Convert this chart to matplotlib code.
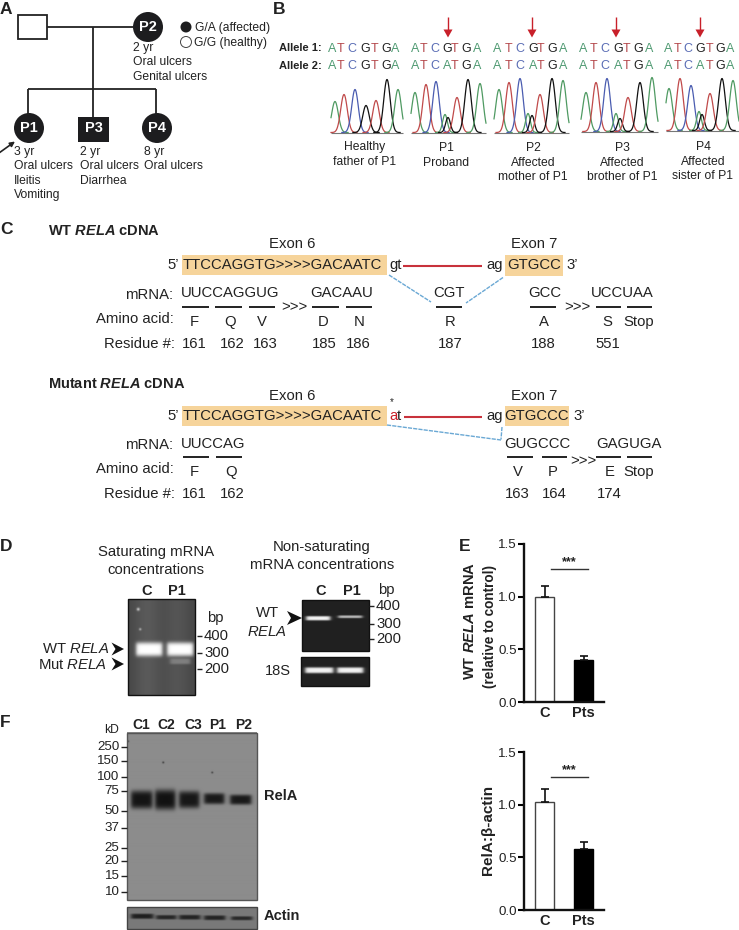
import numpy as np
import matplotlib
matplotlib.use("Agg")
import matplotlib.pyplot as plt
from matplotlib.patches import Circle, Rectangle, Polygon

W, H = 739, 930
plt.rcParams['font.family'] = ['Liberation Sans', 'DejaVu Sans']
plt.rcParams['mathtext.fontset'] = 'custom'
plt.rcParams['mathtext.rm'] = 'Liberation Sans'
plt.rcParams['mathtext.it'] = 'Liberation Sans:italic'
plt.rcParams['mathtext.bf'] = 'Liberation Sans:bold'
plt.rcParams['mathtext.bfit'] = 'Liberation Sans:italic:bold'
TXT = '#222222'

# ---------- data ----------
bar_groups = ['C', 'Pts']
mrna_values = [1.0, 0.40]
mrna_errors = [0.10, 0.04]
rela_values = [1.03, 0.58]
rela_errors = [0.12, 0.07]
bar_ticks = [0.0, 0.5, 1.0, 1.5]

allele1 = list('ATCGTGA')
allele2_healthy = list('ATCGTGA')
allele2_mutant = list('ATCATGA')
letter_x = [
    [332, 341, 352, 365, 375, 386, 395],
    [415, 424, 435, 447, 455, 466, 477],
    [497, 509, 520, 533, 541, 552, 563],
    [583, 594, 605, 618, 627, 638, 649],
    [668, 678, 688, 700, 710, 720, 730],
]
peak_color_keys = ['g', 'r', 'b', 'g', 'k', 'r', 'k', 'g']
father_peak_x = [335, 344, 355, 366, 376, 387, 398]
father_peak_h = [31, 38, 43, 27, 32, 53, 43]
father_keys = ['g', 'r', 'b', 'k', 'r', 'k', 'g']
trace_x = [
    [415, 426, 436, 445, 448, 457, 468, 480],
    [499, 509, 520, 528, 532, 540, 552, 563],
    [586, 596, 607, 616, 620, 628, 640, 652],
    [669, 680, 691, 699, 702, 710, 722, 733],
]
trace_h = [
    [40, 48, 51, 18, 15, 35, 53, 49],
    [43, 50, 54, 19, 17, 38, 54, 52],
    [39, 49, 53, 18, 13, 34, 49, 54],
    [42, 52, 45, 19, 16, 37, 52, 50],
]
trace_base = [132.5, 132.5, 131.5, 130.5]
trace_span = [(411, 486), (494, 569), (581, 658), (666, 739)]
arrow_x = [448, 532, 616, 700]

kd_labels = ['250', '150', '100', '75', '50', '37', '25', '20', '15', '10']
kd_y = [747, 761, 777, 791, 811, 828, 848, 861, 876, 892]
lane_labels = ['C1', 'C2', 'C3', 'P1', 'P2']
lane_x = [141, 166, 193, 218, 244]

# ---------- figure ----------
fig = plt.figure(figsize=(W / 100, H / 100), dpi=100)
ax = fig.add_axes([0, 0, 1, 1])
ax.set_xlim(0, W)
ax.set_ylim(H, 0)
ax.axis('off')


def T(x, y, s, size=8.7, ha='left', va='center', **kw):
    kw.setdefault('color', TXT)
    return ax.text(x, y, s, fontsize=size, ha=ha, va=va, **kw)


def L(xs, ys, color=TXT, lw=1.3, **kw):
    ax.plot(xs, ys, color=color, lw=lw, solid_capstyle='butt', **kw)


for x, y, s in [(0, 9, 'A'), (273, 9, 'B'), (0, 229, 'C'), (0, 546, 'D'),
                (459, 546, 'E'), (0, 722, 'F')]:
    T(x, y, s, size=12.5, fontweight='bold')

# ---------- panel A ----------
ax.add_patch(Rectangle((18, 15), 29, 24, fc='white', ec=TXT, lw=1.3))
L([47, 134], [27, 27])
L([93, 93], [27, 117])
L([28, 155.5], [89.5, 89.5])
L([28, 28], [89.5, 115])
L([155.5, 155.5], [89.5, 115])
for cx, cy, name in [(148, 27, 'P2'), (29, 128, 'P1'), (157, 128, 'P4')]:
    ax.add_patch(Circle((cx, cy), 15, fc='#1d1d1f', ec='none'))
    T(cx, cy, name, size=10.5, ha='center', color='white', fontweight='bold')
ax.add_patch(Rectangle((78, 117), 31, 25, fc='#1d1d1f', ec='none'))
T(93.5, 128, 'P3', size=10.5, ha='center', color='white', fontweight='bold')
ax.add_patch(Circle((186, 27), 5.5, fc='#1d1d1f', ec='none'))
ax.add_patch(Circle((186, 42), 5.5, fc='white', ec='#444444', lw=0.7))
T(195, 28, 'G/A (affected)', size=8.7)
T(194, 43, 'G/G (healthy)', size=8.7)
for x, y0, lines in [(133, 48, ['2 yr', 'Oral ulcers', 'Genital ulcers']),
                     (14, 152, ['3 yr', 'Oral ulcers', 'Ileitis', 'Vomiting']),
                     (80, 152, ['2 yr', 'Oral ulcers', 'Diarrhea']),
                     (144, 152, ['8 yr', 'Oral ulcers'])]:
    for i, s in enumerate(lines):
        T(x, y0 + i * 14.4, s, size=8.7)
ax.annotate('', xy=(15, 141.5), xytext=(-1, 153),
            arrowprops=dict(arrowstyle='-|>', color=TXT, lw=1.2, mutation_scale=7,
                            shrinkA=0, shrinkB=0))

# ---------- panel B ----------
T(279, 48, 'Allele 1:', size=8, fontweight='bold')
T(279, 66, 'Allele 2:', size=8, fontweight='bold')
COL = {'A': '#4f9a72', 'T': '#b5484c', 'C': '#5a6db5', 'G': '#222222',
       'g': '#4f9a62', 'r': '#c04a4a', 'b': '#4a5cb0', 'k': '#111111'}
for g, xs in enumerate(letter_x):
    row2 = allele2_healthy if g == 0 else allele2_mutant
    for x, a, b in zip(xs, allele1, row2):
        T(x, 48.5, a, size=9, ha='center', color=COL[a])
        T(x, 66, b, size=9, ha='center', color=COL[b])
for x in arrow_x:
    L([x, x], [17, 31], color='#c8202a', lw=1)
    ax.add_patch(Polygon([[x - 4.5, 29.5], [x + 4.5, 29.5], [x, 37.5]],
                         fc='#c8202a', ec='none'))


def trace(px, ph, keys, base, span, sigma=3.3):
    t = np.linspace(span[0], span[1], 300)
    L(list(span), [base + 0.3, base + 0.3], color='#777777', lw=0.8)
    for p, h, k in zip(px, ph, keys):
        s = sigma * (0.72 if h < 22 else 1)
        m = np.abs(t - p) < 4 * s
        ax.plot(t[m], base - h * np.exp(-(t[m] - p) ** 2 / (2 * s ** 2)),
                color=COL[k], lw=0.9)


trace(father_peak_x, father_peak_h, father_keys, 132.5, (331, 403))
for px, ph, b, sp in zip(trace_x, trace_h, trace_base, trace_span):
    trace(px, ph, peak_color_keys, b, sp)

for x, y0, lines in [(365, 147, ['Healthy', 'father of P1']),
                     (446, 148, ['P1', 'Proband']),
                     (533, 148, ['P2', 'Affected', 'mother of P1']),
                     (622, 148, ['P3', 'Affected', 'brother of P1']),
                     (703, 147, ['P4', 'Affected', 'sister of P1'])]:
    for i, s in enumerate(lines):
        T(x, y0 + i * 14.6, s, size=8.7, ha='center')

# ---------- panel C ----------
ORANGE = '#f6d49b'
T(48, 231, r'WT $\mathbfit{RELA}$ cDNA', size=10.5, fontweight='bold')
T(48, 384, r'Mutant $\mathbfit{RELA}$ cDNA', size=10.5, fontweight='bold')

S = 10.7
# WT
T(292.5, 244, 'Exon 6', size=S, ha='center')
T(534, 244, 'Exon 7', size=S, ha='center')
ax.add_patch(Rectangle((182, 254.5), 205, 20.5, fc=ORANGE, ec='none'))
ax.add_patch(Rectangle((505, 254.5), 58, 21.5, fc=ORANGE, ec='none'))
T(167, 264.5, '5’', size=S)
T(182.5, 264.5, 'TTCCAGGTG>>>>GACAATC', size=S)
T(389, 264.5, 'gt', size=S)
L([403, 482], [266, 266], color='#c8323c', lw=1.5)
T(486, 264.5, 'ag', size=S)
T(507, 264.5, 'GTGCC', size=S)
T(566, 264.5, '3’', size=S)
for xs, ys in [([389, 431], [275, 302]), ([503, 466], [277.5, 303])]:
    ax.plot(xs, ys, color='#6aa8d4', lw=1, ls=(0, (3, 0.8)))
# Mutant
T(292.5, 396, 'Exon 6', size=S, ha='center')
T(534, 396, 'Exon 7', size=S, ha='center')
ax.add_patch(Rectangle((182, 406), 205, 20, fc=ORANGE, ec='none'))
ax.add_patch(Rectangle((505, 406), 64, 20, fc=ORANGE, ec='none'))
T(167, 415.5, '5’', size=S)
T(182.5, 415.5, 'TTCCAGGTG>>>>GACAATC', size=S)
T(389, 416, 'a', size=S, color='#c8202a')
T(397, 415.5, 't', size=S)
T(392, 402.5, '*', size=7, ha='center')
L([404, 482], [417.3, 417.3], color='#c8323c', lw=1.5)
T(486, 415.5, 'ag', size=S)
T(504.5, 415.5, 'GTGCCC', size=S)
T(573, 415.5, '3’', size=S)
for xs, ys in [([387, 501], [425, 440]), ([502, 501], [427, 439.5])]:
    ax.plot(xs, ys, color='#6aa8d4', lw=1, ls=(0, (3, 0.8)))

for y, s, xr in [(295, 'mRNA:', 173), (319, 'Amino acid:', 174), (344, 'Residue #:', 175),
                 (445, 'mRNA:', 173), (469, 'Amino acid:', 174), (494, 'Residue #:', 175)]:
    T(xr, y, s, size=S, ha='right')
for x, s in [(181, 'UUCCAGGUG'), (310, 'GACAAU'), (433, 'CGT'), (528, 'GCC'), (591, 'UCCUAA')]:
    T(x, 293, s, size=S)
for x, s in [(181, 'UUCCAG'), (504, 'GUGCCC'), (596, 'GAGUGA')]:
    T(x, 443.5, s, size=S)
for a, b in [(182, 209), (215, 242), (249, 275), (312, 339), (346, 372), (436, 462),
             (530, 556), (596, 621), (627, 652)]:
    L([a, b], [307, 307], lw=1.4)
for a, b in [(183, 209), (216, 242), (507, 533), (541.5, 567), (596, 621), (627, 652)]:
    L([a, b], [456.7, 456.7], lw=1.4)
T(294, 307.5, '>>>', size=S, ha='center')
T(577, 307.5, '>>>', size=S, ha='center')
T(583, 461.5, '>>>', size=S, ha='center')
for x, s in [(194, 'F'), (230, 'Q'), (262, 'V'), (323, 'D'), (359, 'N'), (450, 'R'),
             (543.5, 'A'), (607.5, 'S'), (639, 'Stop')]:
    T(x, 321.5, s, size=S, ha='center')
for x, s in [(194, '161'), (232, '162'), (265, '163'), (324, '185'), (358, '186'),
             (450, '187'), (543, '188'), (608, '551')]:
    T(x, 344, s, size=S, ha='center')
for x, s in [(194, 'F'), (231, 'Q'), (518, 'V'), (553, 'P'), (610, 'E'), (639, 'Stop')]:
    T(x, 471.5, s, size=S, ha='center')
for x, s in [(194, '161'), (232, '162'), (517, '163'), (554.5, '164'), (609, '174')]:
    T(x, 494, s, size=S, ha='center')


# ---------- gels / blots ----------
def blob(X, Y, x0, x1, yc, hy, edge=2.2):
    fx = 0.5 * (np.tanh((X - x0) / edge) - np.tanh((X - x1) / edge))
    fy = np.exp(-np.abs((Y - yc) / hy) ** 4)
    return fx * fy


def panel_image(box, bg, bands, ec='#111111', lanes=None, spots=None, edge=2.2):
    x0, x1, y0, y1 = box
    ys, xs = np.mgrid[y0:y1:0.5, x0:x1:0.5]
    img = np.full(xs.shape, bg, dtype=float)
    for lx, lw_, amp in (lanes or []):
        img += amp * np.exp(-((xs - lx) / lw_) ** 2)
    for a, b, yc, hy, val in bands:
        m = blob(xs, ys, a, b, yc, hy, edge)
        img = img * (1 - m) + val * m
    for sx, sy, r, val in (spots or []):
        m = np.exp(-((xs - sx) ** 2 + (ys - sy) ** 2) / r ** 2)
        img = img * (1 - m) + val * m
    ax.imshow(img, extent=(x0, x1, y1, y0), cmap='gray', vmin=0, vmax=1,
              aspect='auto', interpolation='bilinear', zorder=1)
    ax.add_patch(Rectangle((x0, y0), x1 - x0, y1 - y0, fc='none', ec=ec, lw=1, zorder=2))


# D left
panel_image((128, 195, 599, 695), 0.27,
            [(136, 162, 649, 7, 1.0), (167, 193, 649, 7, 1.0), (170, 190, 661, 3, 0.5)],
            lanes=[(147, 14, 0.08), (177, 14, 0.06)],
            spots=[(138, 609, 1.5, 0.8), (140, 629, 1.2, 0.7)], edge=2)
T(156, 552, 'Saturating mRNA', size=S, ha='center')
T(156, 569.5, 'concentrations', size=S, ha='center')
T(147, 591, 'C', size=10.5, ha='center', fontweight='bold')
T(177, 591, 'P1', size=10.5, ha='center', fontweight='bold')
T(215, 618, 'bp', size=S, ha='center')
for y, s in [(636, '400'), (653, '300'), (669, '200')]:
    L([197, 202], [y, y], lw=1)
    T(204, y, s, size=S)


def chevron(tip, y, back, half):
    ax.add_patch(Polygon([[tip, y], [back, y - half], [back + 4, y], [back, y + half]],
                         fc='#111111', ec='none', zorder=3))


chevron(124, 649, 111.5, 6.5)
chevron(124, 664, 111.5, 6.5)
T(109, 649, r'WT $\mathit{RELA}$', size=S, ha='right')
T(107, 664.5, r'Mut $\mathit{RELA}$', size=S, ha='right')

# D right
panel_image((302, 369, 600, 651), 0.13,
            [(306, 330, 618, 2.2, 0.95), (338, 362, 616.5, 1.4, 0.72)], edge=2)
panel_image((301, 369, 657, 686), 0.13,
            [(305, 333, 670, 3, 0.95), (337, 363, 670, 3, 0.95)], edge=2)
T(322, 547, 'Non-saturating', size=S, ha='center')
T(322, 565, 'mRNA concentrations', size=S, ha='center')
T(321, 591, 'C', size=10.5, ha='center', fontweight='bold')
T(352, 591, 'P1', size=10.5, ha='center', fontweight='bold')
T(386, 590, 'bp', size=S, ha='center')
for y, s in [(606, '400'), (624, '300'), (639, '200')]:
    L([369, 374], [y, y], lw=1)
    T(376, y, s, size=S)
chevron(302, 618, 287, 7)
T(267, 613, 'WT', size=S, ha='center')
T(267, 632, r'$\mathit{RELA}$', size=S, ha='center')
T(278, 671, '18S', size=10.5, ha='center')

# F blots
rela_bands = [(131, 152, 800, 9, 0.08), (155, 175, 800, 10, 0.07), (179, 199, 800, 8.5, 0.09),
              (204, 224, 799, 5.5, 0.10), (230, 251, 800, 5, 0.10)]
panel_image((127, 257, 733, 900), 0.55, rela_bands, ec='#555555',
            spots=[(163, 763, 1, 0.22), (212, 773, 1, 0.25), (128, 742, 0.9, 0.25)])
actin_bands = [(131, 153, 916, 2.6, 0.12), (156, 176, 917, 2.2, 0.15), (179, 200, 917, 2.4, 0.14),
               (204, 225, 917.5, 2.4, 0.14), (231, 252, 918, 2, 0.16)]
panel_image((127, 257, 907, 929), 0.48, actin_bands, ec='#444444')
T(112, 730, 'kD', size=8.7, ha='center')
for y, s in zip(kd_y, kd_labels):
    T(119.5, y, s, size=9.6, ha='right')
    L([121, 127], [y, y], lw=1)
for x, s in zip(lane_x, lane_labels):
    T(x, 725, s, size=10, ha='center', fontweight='bold')
T(264, 796, 'RelA', size=10.5, fontweight='bold')
T(264, 916, 'Actin', size=10.5, fontweight='bold')


# ---------- panel E bars ----------
def bar_axes(y_top, y_bot, vals, errs):
    a = fig.add_axes([524 / W, 1 - y_bot / H, (604 - 524) / W, (y_bot - y_top) / H])
    a.patch.set_alpha(0)
    a.set_xlim(524, 604)
    a.set_ylim(0, 1.5)
    a.bar([544.5, 583.5], vals, width=19.5, color=['white', '#000000'],
          edgecolor=['#444444', '#000000'], linewidth=1)
    for xp, v, e in zip([544.5, 583.5], vals, errs):
        a.errorbar([xp], [v], yerr=[[0], [e]], color='#111111', capsize=3.1,
                   elinewidth=1.2, capthick=1.2, fmt='none')
    for s in ['top', 'right']:
        a.spines[s].set_visible(False)
    for s in ['left', 'bottom']:
        a.spines[s].set_linewidth(1.7)
        a.spines[s].set_color('#111111')
    a.set_yticks(bar_ticks)
    a.set_yticklabels([f'{v:.1f}' for v in bar_ticks], fontsize=9.6, color=TXT)
    a.tick_params(axis='y', length=4, width=1.5, pad=1)
    a.set_xticks([544.5, 583.5])
    a.set_xticklabels(bar_groups, fontsize=10.5, fontweight='bold', color=TXT)
    a.tick_params(axis='x', length=0, pad=3)
    a.plot([551, 588], [1.265, 1.265], color='#333333', lw=1)
    a.text(569.5, 1.33, '***', ha='center', va='center', fontsize=9, color=TXT,
           fontweight='bold')
    return a


bar_axes(544, 702, mrna_values, mrna_errors)
bar_axes(752, 910, rela_values, rela_errors)
T(470, 621, r'WT $\mathbfit{RELA}$ mRNA', size=10.6, ha='center', rotation=90, fontweight='bold')
T(490, 626, '(relative to control)', size=9.8, ha='center', rotation=90, fontweight='bold')
T(488, 830, 'RelA:β-actin', size=11, ha='center', rotation=90, fontweight='bold')

ax.set_xlim(0, W)
ax.set_ylim(H, 0)
fig.savefig('out.png', dpi=100)
